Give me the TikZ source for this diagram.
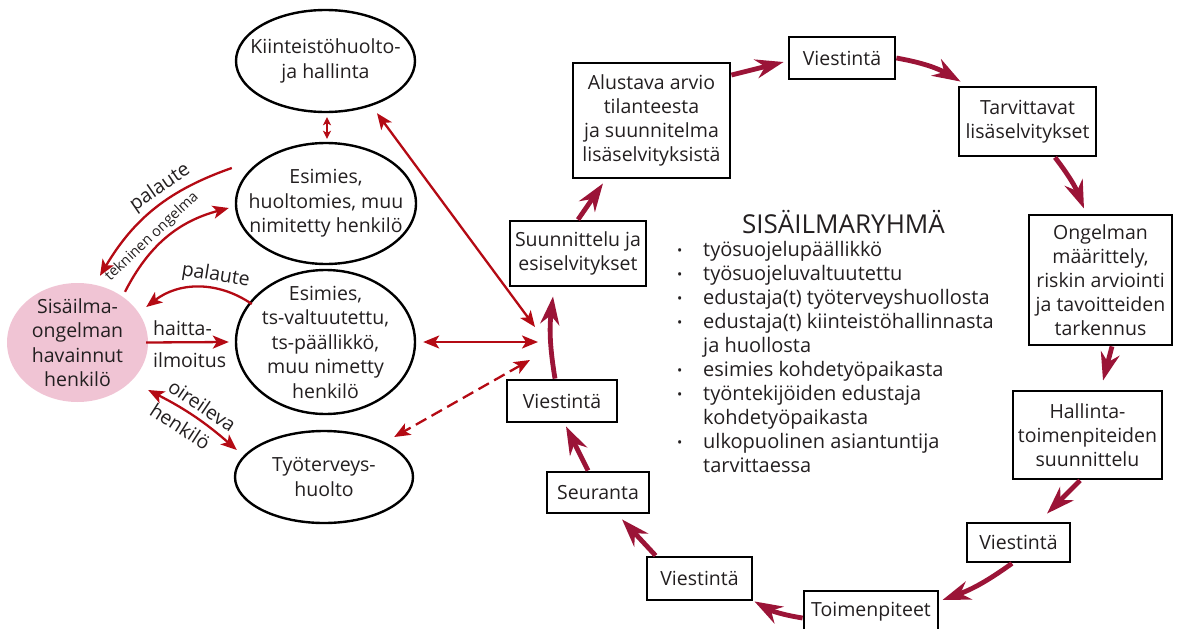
\documentclass[tikz,border=0pt]{standalone}
\usepackage{fontspec}
\setmainfont{Open Sans}
\usetikzlibrary{arrows.meta,shapes.geometric}

\definecolor{alert}{HTML}{B40A14}
\definecolor{cyclered}{HTML}{9B1437}
\definecolor{blush}{HTML}{F0C4D4}
\definecolor{ink}{HTML}{231F20}

\newcommand{\bul}{\makebox[26pt][l]{\raisebox{1pt}{\fontsize{14}{14}\selectfont\textbullet}}}
\newcommand{\nobul}{\hspace*{26pt}}

\tikzset{
  % negative inner sep keeps the ellipse at its minimum size
  oval/.style={ellipse, draw=black, line width=2.4pt, inner sep=-20pt, align=center,
    text=ink, font=\fontsize{19.5}{24.5}\selectfont},
  stagebox/.style={rectangle, draw=black, line width=2.8pt, inner sep=0pt, align=center,
    text=ink, font=\fontsize{19.5}{24}\selectfont},
  link/.style={alert, line width=2.3pt, >={Stealth[length=16pt,width=13pt,inset=4pt]}, ->},
  linkback/.style={alert, line width=2.3pt, >={Stealth[length=16pt,width=13pt,inset=4pt]}, <-},
  link2/.style={alert, line width=2.3pt, >={Stealth[length=16pt,width=13pt,inset=4pt]}, <->},
  minilink/.style={alert, line width=2pt, >={Stealth[length=8pt,width=8pt,inset=2pt]}, <->},
  flow/.style={cyclered, line width=4.8pt, >={Stealth[length=28pt,width=19pt,inset=9pt]}, ->},
  lab/.style={text=ink, inner sep=0pt, font=\fontsize{19.5}{24}\selectfont},
  smalllab/.style={text=ink, inner sep=0pt, font=\fontsize{14.5}{16}\selectfont},
}

\begin{document}
\begin{tikzpicture}[x=1pt,y=-1pt]
\useasboundingbox (0,0) rectangle (1178,629);

% ---------- left side: parties ----------
\node[oval, minimum width=179pt, minimum height=102pt] (kiint) at (325.5,61)
  {Kiinteistöhuolto-\\ja hallinta};
\node[oval, minimum width=180pt, minimum height=121pt] (esim2) at (326,203.5)
  {Esimies,\\huoltomies, muu\\nimitetty henkilö};
\node[oval, minimum width=179pt, minimum height=144pt] (esim3) at (325.5,342)
  {Esimies,\\ts-valtuutettu,\\ts-päällikkö,\\muu nimetty\\henkilö};
\node[oval, minimum width=178pt, minimum height=92pt] (tth) at (324,477)
  {Työterveys-\\huolto};
\node[oval, draw=none, fill=blush, minimum width=141pt, minimum height=119pt] (sis) at (77.5,342.5)
  {Sisäilma-\\ongelman\\havainnut\\henkilö};

% free ends of the links towards the group
\coordinate (hubA) at (535,327);
\coordinate (hubB) at (538,342);
\coordinate (hubC) at (530,360);

% ---------- left side: links with their labels ----------
\draw[linkback] ([xshift=22.5pt,yshift=6pt]sis.north) to[bend left=20]
  node[lab, pos=0.6, sloped, above=3pt] (lbpal1) {palaute}
  ([xshift=-3pt,yshift=35.5pt]esim2.west);
\draw[link] ([xshift=47.5pt,yshift=-10pt]sis.north) to[bend left=24]
  node[smalllab, pos=0.42, sloped, above=2pt] (lbtek) {tekninen ongelma}
  ([xshift=-6pt,yshift=-4.5pt]esim2.west);
\draw[linkback] ([xshift=-3pt,yshift=35.5pt]sis.east) to[bend left=36]
  node[lab, pos=0.64, sloped, above=2pt] (lbpal2) {palaute}
  ([xshift=17pt,yshift=38pt]esim3.west);
\draw[link] ([xshift=-3pt]sis.east) -- ([xshift=-6pt]esim3.west);
\node[lab, anchor=base west] (lbhai) at (153,335) {haitta-};
\node[lab, anchor=base west] (lbilm) at (153,367) {ilmoitus};
\draw[link2] ([xshift=-1pt,yshift=-47.5pt]sis.east) to[bend left=7]
  node[lab, pos=0.5, sloped, above=5pt] (lboir) {oireileva}
  node[lab, pos=0.43, sloped, below=7pt] (lbhen) {henkilö}
  ([xshift=3pt,yshift=27pt]tth.west);
\draw[minilink] ([xshift=1.5pt,yshift=-4pt]kiint.south) -- ([xshift=1pt,yshift=3pt]esim2.north);
\draw[link2] ([xshift=51.5pt]kiint.south) -- (hubA);
\draw[link2] ([xshift=7pt]esim3.east) -- (hubB);
\draw[link2, dash pattern=on 12pt off 6pt] (hubC) -- ([xshift=-20pt,yshift=40pt]tth.east);

% ---------- right side: process stages ----------
\node[stagebox, minimum width=136pt, minimum height=65pt] (suun) at (578,253.5)
  {Suunnittelu ja\\esiselvitykset};
\node[stagebox, minimum width=157pt, minimum height=115pt] (alu) at (651.5,120.5)
  {Alustava arvio\\tilanteesta\\ja suunnitelma\\lisäselvityksistä};
\node[stagebox, minimum width=106pt, minimum height=42pt] (vtop) at (842,58) {Viestintä};
\node[stagebox, minimum width=137pt, minimum height=69pt] (tarv) at (1027.5,121.5)
  {Tarvittavat\\lisäselvitykset};
\node[stagebox, minimum width=143pt, minimum height=130pt] (ong) at (1100.5,280)
  {Ongelman\\määrittely,\\riskin arviointi\\ja tavoitteiden\\tarkennus};
\node[stagebox, minimum width=149pt, minimum height=88pt] (hall) at (1087.5,435)
  {Hallinta-\\toimenpiteiden\\suunnittelu};
\node[stagebox, minimum width=103pt, minimum height=39pt] (vr) at (1018.5,542.5) {Viestintä};
\node[stagebox, minimum width=134pt, minimum height=42pt] (toim) at (871,612) {Toimenpiteet};
\node[stagebox, minimum width=105pt, minimum height=43pt] (vb) at (699.5,578.5) {Viestintä};
\node[stagebox, minimum width=102pt, minimum height=41pt] (seur) at (598,492.5) {Seuranta};
\node[stagebox, minimum width=110pt, minimum height=42pt] (v1) at (562,401) {Viestintä};

% ---------- right side: cycle ----------
\draw[flow] ([xshift=-7pt]v1.north) to[bend left=8] ([xshift=-25pt,yshift=-9pt]suun.south);
\draw[flow] (suun.north) -- ([xshift=-48.5pt,yshift=-4pt]alu.south);
\draw[flow] ([yshift=45.5pt]alu.east) -- ([xshift=-4pt,yshift=-4pt]vtop.west);
\draw[flow] (vtop.east) to[bend left=10] ([xshift=3pt,yshift=4pt]tarv.north west);
\draw[flow] ([xshift=27.5pt]tarv.south) to[bend left=8] ([xshift=-16.5pt,yshift=5pt]ong.north);
\draw[flow] ([xshift=11.5pt]ong.south) -- ([xshift=15.5pt,yshift=9pt]hall.north);
\draw[flow] ([xshift=-7.5pt]hall.south) -- ([xshift=28.5pt,yshift=8pt]vr.north);
\draw[flow] ([xshift=-6.5pt]vr.south) to[bend left=8] ([xshift=3pt,yshift=12pt]toim.east);
\draw[flow] ([yshift=-6pt]toim.west) to[bend left=10] ([xshift=1pt]vb.south east);
\draw[flow] ([xshift=10pt]vb.north west) -- ([xshift=24pt,yshift=-5pt]seur.south);
\draw[flow] ([xshift=-10pt]seur.north) -- ([xshift=4pt,yshift=-3pt]v1.south);

% ---------- group members ----------
\node[text=ink, inner sep=0pt, anchor=base, font=\fontsize{26}{30}\selectfont] (title)
  at (843.5,233) {SISÄILMARYHMÄ};
\node[text=ink, inner sep=0pt, anchor=north west, align=left,
      font=\fontsize{20}{24.1}\selectfont] (members) at (677,239)
  {\strut\bul työsuojelupäällikkö\\
   \bul työsuojeluvaltuutettu\\
   \bul edustaja(t) työterveyshuollosta\\
   \bul edustaja(t) kiinteistöhallinnasta\\
   \nobul ja huollosta\\
   \bul esimies kohdetyöpaikasta\\
   \bul työntekijöiden edustaja\\
   \nobul kohdetyöpaikasta\\
   \bul ulkopuolinen asiantuntija\\
   \nobul tarvittaessa};
\end{tikzpicture}
\end{document}
